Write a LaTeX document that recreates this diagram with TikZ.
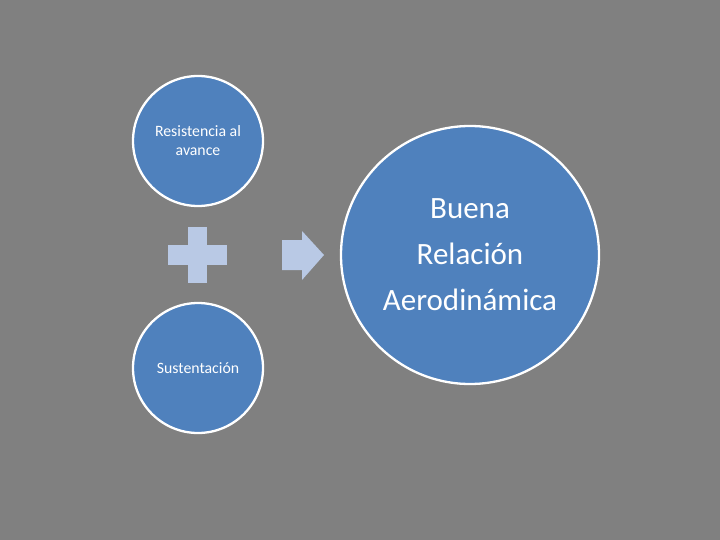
\documentclass[tikz,border=0pt]{standalone}
\usepackage{fontspec}
\setmainfont{Carlito}
\usepackage{tikz}
\usetikzlibrary{positioning}

\definecolor{fondo}{HTML}{808080}
\definecolor{azul}{HTML}{4F81BD}
\definecolor{celeste}{HTML}{B9C9E5}

\begin{document}
\begin{tikzpicture}[
    x=1pt, y=-1pt,
    circulo/.style={circle, draw=white, line width=2.3pt, fill=azul, text=white, align=center, inner sep=0pt},
    chico/.style={circulo, minimum size=130pt, font=\fontsize{15.8}{19}\selectfont},
    grande/.style={circulo, minimum size=258pt, font=\fontsize{31}{46}\selectfont},
    signo/.style={fill=celeste, draw=none}
]
    % fondo
    \fill[fondo] (0,0) rectangle (720,540);
    \useasboundingbox (0,0) rectangle (720,540);

    % circulos
    \node[chico] (resist) at (198,141) {Resistencia al\\avance};
    \node[chico] (sust) at (198,368) {Sustentación};
    \node[grande] (buena) at (470,255) {Buena\\Relación\\Aerodinámica};

    % signo mas y flecha
    \fill[signo] (168,245) rectangle (227,265);
    \fill[signo] (188,227) rectangle (207,283);
    \fill[signo] (282,240) -- (302,240) -- (302,231) -- (324,255)
        -- (302,280) -- (302,270) -- (282,270) -- cycle;
\end{tikzpicture}
\end{document}
